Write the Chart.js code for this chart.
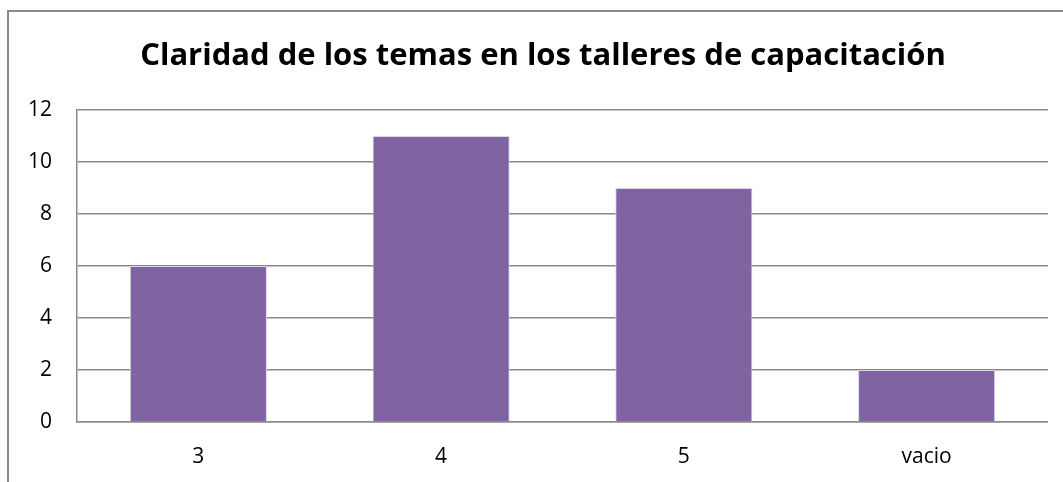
<!DOCTYPE html>
<html>
<head>
<meta charset="utf-8">
<script src="https://cdn.jsdelivr.net/npm/chart.js@4"></script>
<style>
  html, body { margin: 0; padding: 0; background: #fff; overflow: hidden; }
  #wrap { position: relative; width: 1063px; height: 482px; }
  #frame { position: absolute; left: 7px; top: 10px; width: 1100px; height: 500px;
           border-left: 2px solid #8a8a8a; border-top: 2px solid #8a8a8a; }
  canvas { position: absolute; left: 0; top: 0; }
</style>
</head>
<body>
<div id="wrap">
  <div id="frame"></div>
  <canvas id="chart" width="1048" height="482"></canvas>
</div>
<script>
// datos del gráfico
const categorias = ['3', '4', '5', 'vacio'];
const valores = [6, 11, 9, 2];
const ticksY = [0, 2, 4, 6, 8, 10, 12];
const titulo = 'Claridad de los temas en los talleres de capacitación';

const fuente = "'Open Sans', 'Liberation Sans', sans-serif";

// título dibujado a mano para centrarlo como en el original
const tituloPlugin = {
  id: 'tituloPlugin',
  afterDraw(chart) {
    const ctx = chart.ctx;
    ctx.save();
    ctx.font = `bold 31px ${fuente}`;
    ctx.fillStyle = '#000';
    ctx.textAlign = 'center';
    ctx.textBaseline = 'middle';
    ctx.fillText(titulo, 543, 56);
    ctx.restore();
  }
};

new Chart(document.getElementById('chart'), {
  type: 'bar',
  data: {
    labels: categorias,
    datasets: [{
      data: valores,
      backgroundColor: '#8064A2',
      borderColor: '#ddd5e8',
      borderWidth: 1,
      categoryPercentage: 0.565,
      barPercentage: 1
    }]
  },
  options: {
    responsive: false,
    animation: false,
    layout: { padding: { left: 0, right: 0, top: 110, bottom: 0 } },
    plugins: {
      legend: { display: false },
      tooltip: { enabled: false },
      title: { display: false }
    },
    scales: {
      x: {
        grid: { display: false, drawTicks: false },
        border: { display: true, color: '#8a8a8a', width: 1.5 },
        ticks: { color: '#000', font: { family: fuente, size: 21 }, padding: 22 },
        afterFit: s => { s.height = 60; }
      },
      y: {
        min: 0,
        max: 12,
        afterBuildTicks: s => { s.ticks = ticksY.map(v => ({ value: v })); },
        grid: { color: '#8a8a8a', lineWidth: 1.5, drawTicks: false },
        border: { display: true, color: '#8a8a8a', width: 1.5 },
        ticks: { color: '#000', font: { family: fuente, size: 21 }, padding: 25 },
        afterFit: s => { s.width = 77; }
      }
    }
  },
  plugins: [tituloPlugin]
});
</script>
</body>
</html>
